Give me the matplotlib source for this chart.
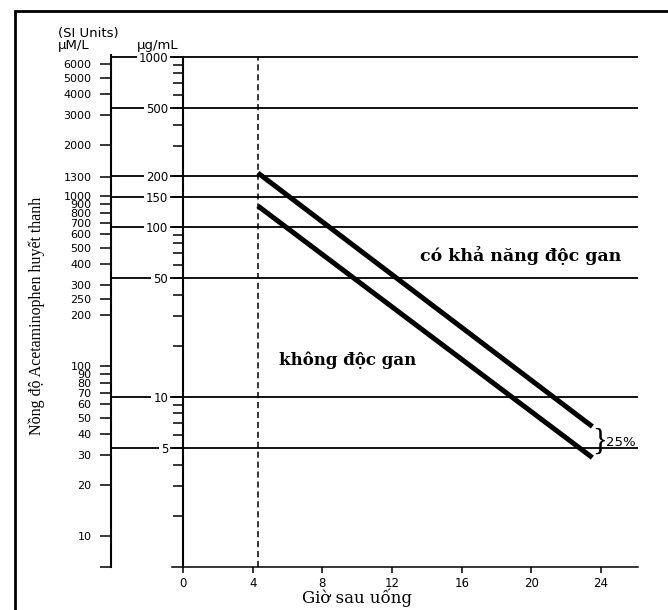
import matplotlib
matplotlib.use('Agg')
import matplotlib.pyplot as plt
from matplotlib.patches import Rectangle
from matplotlib.ticker import FixedLocator, NullFormatter

# hours after ingestion (x axis)
hours = [0, 4, 8, 12, 16, 20, 24]

# serum level, µg/mL: labelled lines and the small unlabelled ticks
ug_major = [1000, 500, 200, 150, 100, 50, 10, 5]
ug_minor = [900, 800, 700, 600, 400, 300, 90, 80, 70, 60, 40, 30, 20,
            9, 8, 7, 6, 4, 3, 2]

# same scale in SI units, µM/L
um_ticks = [6000, 5000, 4000, 3000, 2000, 1300, 1000, 900, 800, 700, 600,
            500, 400, 300, 250, 200, 100, 90, 80, 70, 60, 50, 40, 30, 20, 10]
UM_PER_UG = 6.616

# the two treatment lines, read at their ends
line_hours = [4.3, 23.5]
upper_line = [208, 6.7]
lower_line = [133, 4.4]
dashed_hour = 4.3

SANS = 'DejaVu Sans'
SERIF = 'DejaVu Serif'

fig = plt.figure(figsize=(6.68, 6.10), dpi=100)
ax = fig.add_axes([111 / 668, 43 / 610, 527 / 668, 512 / 610])
ax.set_yscale('log')
ax.set_ylim(1, 1027)
ax.set_xlim(-4.13, 26.12)

# spines: the µg/mL axis sits on hour 0
ax.spines['top'].set_visible(False)
ax.spines['right'].set_visible(False)
ax.spines['left'].set_position(('data', 0))
ax.spines['left'].set_bounds(1, 1000)
ax.spines['left'].set_linewidth(1.5)
ax.spines['bottom'].set_bounds(-0.63, 26.12)
ax.spines['bottom'].set_linewidth(1.1)

# µg/mL ticks
ax.set_yticks(ug_major, labels=[str(v) for v in ug_major])
ax.yaxis.set_minor_locator(FixedLocator(ug_minor))
ax.yaxis.set_minor_formatter(NullFormatter())
ax.tick_params(axis='y', which='both', direction='out', length=7, width=1.1)
ax.tick_params(axis='y', which='major', pad=3.5, labelsize=8.5)
for lbl in ax.get_yticklabels():
    lbl.set_family(SANS)
    lbl.set_bbox(dict(facecolor='white', edgecolor='none', pad=1.5))

# hours
ax.set_xticks(hours)
ax.tick_params(axis='x', length=4, width=1.1, pad=3, labelsize=8.5)

# long lines through the chart, starting at the µM/L axis
for v in ug_major:
    ax.axhline(v, color='black', lw=1.3, zorder=1)

ax.vlines(dashed_hour, 1, 1000, colors='black', linestyles=(0, (4, 2.5)), lw=1.1)
ax.plot(line_hours, upper_line, color='black', lw=3.6, solid_capstyle='butt')
ax.plot(line_hours, lower_line, color='black', lw=3.6, solid_capstyle='butt')

# µM/L axis on the far left
sec = ax.secondary_yaxis(0, functions=(lambda v: v * UM_PER_UG,
                                       lambda v: v / UM_PER_UG))
sec.set_yticks(um_ticks, labels=[str(v) for v in um_ticks])
sec.yaxis.set_minor_locator(FixedLocator([UM_PER_UG * 1.0005]))
sec.yaxis.set_minor_formatter(NullFormatter())
sec.tick_params(which='both', length=8, width=1.1, pad=6, labelsize=8)
sec.spines['left'].set_linewidth(1.5)

# region labels
ax.text(19.37, 68, 'có khả năng độc gan', ha='center', va='center',
        family=SERIF, weight='bold', fontsize=12.5)
ax.text(9.44, 16.5, 'không độc gan', ha='center', va='center',
        family=SERIF, weight='bold', fontsize=12)
ax.text(23.94, 5.39, '}', ha='center', va='center', fontsize=22,
        family='Liberation Serif')
ax.text(24.3, 5.39, '25%', ha='left', va='center', fontsize=9.5, family=SANS)

ax.set_xlabel('Giờ sau uống', family=SERIF, fontsize=12, va='center')
ax.xaxis.set_label_coords(0.467, -0.061)
ax.set_ylabel('Nồng độ Acetaminophen huyết thanh', family='Liberation Serif',
              fontsize=11.5, va='center')
ax.yaxis.set_label_coords(-0.1404, 0.49)

# unit headers
fig.text(58 / 668, 1 - 33 / 610, '(SI Units)', family=SANS, fontsize=9.5,
         ha='left', va='center')
fig.text(58 / 668, 1 - 45 / 610, 'µM/L', family=SANS, fontsize=9.5,
         ha='left', va='center')
fig.text(137 / 668, 1 - 46 / 610, 'µg/mL', family=SANS, fontsize=9.5,
         ha='left', va='center')

# page frame (left and top edges only show)
fig.add_artist(Rectangle((14.5 / 668, -0.2), 1.5, 1.2 - 10.5 / 610,
                         transform=fig.transFigure, fill=False,
                         lw=2.0, ec='black'))

fig.savefig('out.png', dpi=100, facecolor='white')
